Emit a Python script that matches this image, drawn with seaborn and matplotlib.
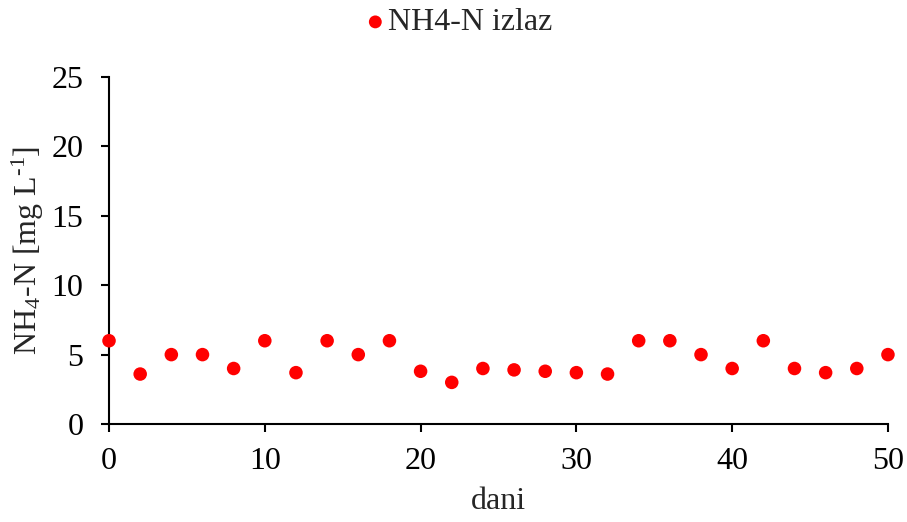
import matplotlib
matplotlib.use("Agg")
import matplotlib.pyplot as plt
import seaborn as sns
import pandas as pd

# days and NH4-N outflow values
dani = [0, 2, 4, 6, 8, 10, 12, 14, 16, 18, 20, 22, 24, 26, 28, 30, 32, 34, 36, 38, 40, 42, 44, 46, 48, 50]
nh4_izlaz = [6, 3.6, 5, 5, 4, 6, 3.7, 6, 5, 6, 3.8, 3, 4, 3.9, 3.8, 3.7, 3.6, 6, 6, 5, 4, 6, 4, 3.7, 4, 5]
x_ticks = [0, 10, 20, 30, 40, 50]
y_ticks = [0, 5, 10, 15, 20, 25]

df = pd.DataFrame({"dani": dani, "NH4-N izlaz": nh4_izlaz})

sns.set_style("ticks")
plt.rcParams["font.family"] = ["Liberation Serif", "DejaVu Serif"]
plt.rcParams["mathtext.fontset"] = "custom"
plt.rcParams["mathtext.rm"] = "Liberation Serif"
plt.rcParams["mathtext.it"] = "Liberation Serif:italic"

fig, ax = plt.subplots(figsize=(9.07, 5.22), dpi=100)
fig.subplots_adjust(left=0.1202, right=0.979, top=0.8525, bottom=0.1877)

sns.scatterplot(data=df, x="dani", y="NH4-N izlaz", ax=ax, color="#ff0000",
                s=95, edgecolor="none", label="NH4-N izlaz", clip_on=False, zorder=3)

ax.set_xlim(0, 50)
ax.set_ylim(0, 25)
ax.set_xticks(x_ticks)
ax.set_yticks(y_ticks)
ax.tick_params(labelsize=23, length=5.5, width=1.5, color="black", labelcolor="black")
ax.tick_params(axis="y", pad=13)
ax.tick_params(axis="x", pad=11)
for side in ["left", "bottom"]:
    ax.spines[side].set_linewidth(1.5)
    ax.spines[side].set_color("black")
sns.despine(ax=ax)

ax.set_xlabel("dani", fontsize=23, labelpad=8)
ax.set_ylabel(r"NH$_4$-N [mg L$^{\text{-1}}$]", fontsize=23, labelpad=4)

ax.legend(loc="lower center", bbox_to_anchor=(0.435, 1.05), frameon=False,
          fontsize=23, handletextpad=-0.6, markerscale=0.95, borderpad=0.2)

fig.savefig("out.png", dpi=100)
